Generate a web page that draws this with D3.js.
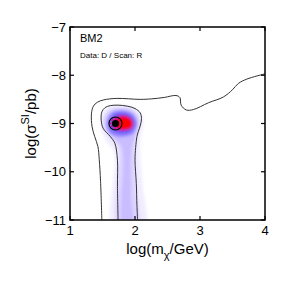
<!DOCTYPE html>
<html>
<head>
<meta charset="utf-8">
<script src="https://cdn.jsdelivr.net/npm/d3@7"></script>
<style>
  body { margin: 0; background: #fff; }
  svg { font-family: "Liberation Sans", Arial, Helvetica, sans-serif; }
</style>
</head>
<body>
<script>
// axis ticks
var xTicks = [1, 2, 3, 4]
var yTicks = [-7, -8, -9, -10, -11]

// credible region contours, [log m, log sigma]
var contour95 = [[1.49,-11],[1.47,-10.2],[1.45,-9.75],[1.43,-9.48],[1.38,-9.27],[1.34,-9.07],[1.33,-8.8],[1.36,-8.64],[1.42,-8.56],[1.52,-8.51],[1.72,-8.48],[2.08,-8.5],[2.25,-8.49],[2.45,-8.46],[2.63,-8.42],[2.69,-8.46],[2.71,-8.62],[2.79,-8.72],[2.9,-8.71],[3.13,-8.57],[3.36,-8.45],[3.5,-8.3],[3.59,-8.17],[3.72,-8.08],[4.0,-7.97]]
var contour68 = [[1.74,-11],[1.73,-10.3],[1.73,-9.76],[1.69,-9.41],[1.62,-9.27],[1.51,-9.1],[1.48,-8.93],[1.49,-8.76],[1.54,-8.67],[1.62,-8.63],[1.74,-8.62],[1.88,-8.64],[2.0,-8.69],[2.08,-8.78],[2.1,-8.9],[2.08,-9.05],[2.05,-9.17],[2.03,-9.27],[2.01,-9.5],[2.0,-9.76],[2.02,-10.24],[2.03,-10.7],[2.04,-11]]

// posterior density levels, outermost first
var densityColors = ['#f1edff', '#ddd3ff', '#c9bcff', '#8a7cff', '#5a4cff', '#c8107a', '#ff0000']
var densityLevels = [
  [[1.66,-11.2],[1.68,-9.6],[1.55,-9.35],[1.48,-9.1],[1.49,-8.8],[1.58,-8.66],[1.78,-8.62],[1.98,-8.66],[2.1,-8.8],[2.13,-9.0],[2.09,-9.25],[2.08,-9.6],[2.12,-10.3],[2.15,-11.2]],
  [[1.74,-11.2],[1.74,-9.5],[1.6,-9.27],[1.52,-9.1],[1.52,-8.85],[1.61,-8.71],[1.78,-8.67],[1.96,-8.71],[2.06,-8.85],[2.07,-9.05],[2.02,-9.25],[2.0,-9.6],[2.02,-10.4],[2.05,-11.2]],
  [[1.82,-11.2],[1.8,-9.5],[1.68,-9.3],[1.56,-9.15],[1.55,-8.92],[1.63,-8.75],[1.8,-8.7],[1.97,-8.76],[2.05,-8.95],[2.02,-9.2],[1.95,-9.5],[1.94,-10.5],[1.96,-11.2]],
  [[1.6,-9.18],[1.57,-8.95],[1.64,-8.78],[1.8,-8.73],[1.96,-8.8],[2.03,-9.0],[1.97,-9.2],[1.82,-9.27],[1.68,-9.25]],
  [[1.65,-9.12],[1.63,-8.94],[1.71,-8.81],[1.85,-8.8],[1.96,-8.88],[1.99,-9.02],[1.92,-9.16],[1.77,-9.19]],
  [[1.68,-9.09],[1.67,-8.92],[1.76,-8.84],[1.89,-8.85],[1.97,-8.96],[1.95,-9.1],[1.81,-9.15]],
  [[1.73,-9.08],[1.73,-8.92],[1.82,-8.86],[1.92,-8.9],[1.96,-9.0],[1.92,-9.1],[1.8,-9.12]]
]

// best fit / benchmark point
var benchmark = [1.7, -9.0]

var width = 291, height = 291
var margin = { top: 27, right: 26, bottom: 71, left: 70 }

var svg = d3.select('body').append('svg')
  .attr('width', width)
  .attr('height', height)

var x = d3.scaleLinear().domain([1, 4]).range([margin.left, width - margin.right])
var y = d3.scaleLinear().domain([-11, -7]).range([height - margin.bottom, margin.top])

var defs = svg.append('defs')
defs.append('clipPath').attr('id', 'plot-clip')
  .append('rect')
  .attr('x', x(1)).attr('y', y(-7))
  .attr('width', x(4) - x(1)).attr('height', y(-11) - y(-7))
defs.append('filter').attr('id', 'soft')
  .attr('x', '-20%').attr('y', '-20%').attr('width', '140%').attr('height', '140%')
  .append('feGaussianBlur').attr('stdDeviation', 1.6)

var area = d3.line()
  .x(d => x(d[0]))
  .y(d => y(d[1]))
  .curve(d3.curveCatmullRomClosed)

var line = d3.line()
  .x(d => x(d[0]))
  .y(d => y(d[1]))
  .curve(d3.curveCatmullRom)

var plot = svg.append('g').attr('clip-path', 'url(#plot-clip)')

plot.append('g')
  .attr('filter', 'url(#soft)')
  .selectAll('path')
  .data(densityLevels)
  .enter()
  .append('path')
  .attr('d', area)
  .attr('fill', (d, i) => densityColors[i])

plot.selectAll('path.contour')
  .data([contour95, contour68])
  .enter()
  .append('path')
  .attr('class', 'contour')
  .attr('d', line)
  .attr('fill', 'none')
  .attr('stroke', '#333')
  .attr('stroke-width', 1)

// benchmark markers
plot.append('circle')
  .attr('cx', x(benchmark[0])).attr('cy', y(benchmark[1]))
  .attr('r', 6.5)
  .attr('fill', 'none').attr('stroke', '#000').attr('stroke-width', 1.2)
plot.append('circle')
  .attr('cx', x(benchmark[0])).attr('cy', y(benchmark[1]))
  .attr('r', 4.8)
  .attr('fill', 'none').attr('stroke', '#e0006a').attr('stroke-width', 1.2)
  .attr('stroke-dasharray', '2,1.5')
plot.append('circle')
  .attr('cx', x(benchmark[0])).attr('cy', y(benchmark[1]))
  .attr('r', 3.6)
  .attr('fill', '#000')

// frame with inward ticks on all sides
svg.append('rect')
  .attr('x', x(1)).attr('y', y(-7))
  .attr('width', x(4) - x(1)).attr('height', y(-11) - y(-7))
  .attr('fill', 'none').attr('stroke', '#000').attr('stroke-width', 1.5)

var tl = 4
var ticks = svg.append('g').attr('stroke', '#000').attr('stroke-width', 1.2)
xTicks.forEach(function(t) {
  ticks.append('line').attr('x1', x(t)).attr('x2', x(t)).attr('y1', y(-11)).attr('y2', y(-11) - tl)
  ticks.append('line').attr('x1', x(t)).attr('x2', x(t)).attr('y1', y(-7)).attr('y2', y(-7) + tl)
})
yTicks.forEach(function(t) {
  ticks.append('line').attr('x1', x(1)).attr('x2', x(1) + tl).attr('y1', y(t)).attr('y2', y(t))
  ticks.append('line').attr('x1', x(4)).attr('x2', x(4) - tl).attr('y1', y(t)).attr('y2', y(t))
})

svg.selectAll('text.xt')
  .data(xTicks)
  .enter()
  .append('text')
  .attr('class', 'xt')
  .attr('x', d => x(d))
  .attr('y', y(-11) + 15)
  .attr('text-anchor', 'middle')
  .attr('font-size', 13)
  .text(d => d)

svg.selectAll('text.yt')
  .data(yTicks)
  .enter()
  .append('text')
  .attr('class', 'yt')
  .attr('x', x(1) - 4)
  .attr('y', d => y(d))
  .attr('dy', '0.35em')
  .attr('text-anchor', 'end')
  .attr('font-size', 13)
  .text(d => d3.format('d')(d).replace('-', '\u2212'))

// axis titles
var xl = svg.append('text')
  .attr('x', (x(1) + x(4)) / 2)
  .attr('y', 254)
  .attr('text-anchor', 'middle')
  .attr('font-size', 15)
xl.append('tspan').text('log(m')
xl.append('tspan').attr('font-size', 11).attr('dy', 5).text('\u03c7')
xl.append('tspan').attr('dy', -5).text('/GeV)')

var yl = svg.append('text')
  .attr('transform', 'translate(36,' + (y(-9)) + ') rotate(-90)')
  .attr('text-anchor', 'middle')
  .attr('font-size', 15)
yl.append('tspan').text('log(\u03c3')
yl.append('tspan').attr('font-size', 11).attr('dy', -7).text('SI')
yl.append('tspan').attr('dy', 7).text('/pb)')

svg.append('text')
  .attr('x', 80).attr('y', 42)
  .attr('font-size', 11)
  .text('BM2')
svg.append('text')
  .attr('x', 80).attr('y', 58)
  .attr('font-size', 8)
  .text('Data: D / Scan: R')
</script>
</body>
</html>
